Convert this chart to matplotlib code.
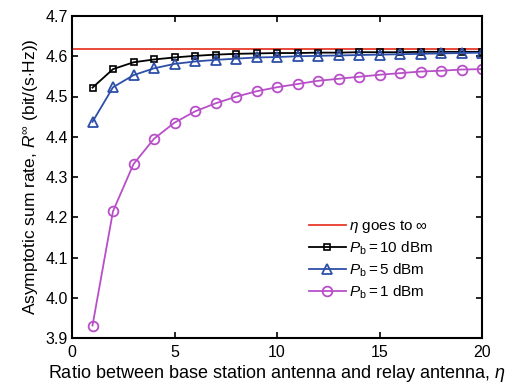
import matplotlib
matplotlib.use("Agg")
import matplotlib.pyplot as plt
import numpy as np

plt.rcParams['font.family'] = ['Liberation Sans', 'DejaVu Sans']
plt.rcParams['mathtext.fontset'] = 'custom'
plt.rcParams['mathtext.rm'] = 'Liberation Sans'
plt.rcParams['mathtext.it'] = 'Liberation Sans:italic'

eta = list(range(1, 21))
r_inf = 4.617
p10 = [4.522, 4.568, 4.585, 4.592, 4.597, 4.601, 4.604, 4.606, 4.607, 4.608,
       4.608, 4.609, 4.609, 4.610, 4.610, 4.610, 4.611, 4.611, 4.611, 4.611]
p5 = [4.437, 4.523, 4.553, 4.570, 4.581, 4.587, 4.591, 4.594, 4.597, 4.598,
      4.600, 4.601, 4.602, 4.603, 4.604, 4.605, 4.606, 4.607, 4.608, 4.609]
p1 = [3.931, 4.215, 4.332, 4.395, 4.435, 4.463, 4.483, 4.4995, 4.513, 4.523,
      4.531, 4.539, 4.544, 4.549, 4.554, 4.558, 4.562, 4.564, 4.567, 4.568]
xticks = [0, 5, 10, 15, 20]
yticks = [3.9, 4.0, 4.1, 4.2, 4.3, 4.4, 4.5, 4.6, 4.7]

fig = plt.figure(figsize=(5.23, 3.83), dpi=100)
ax = fig.add_axes([72/523, 45/383, 410/523, 322/383])

ax.plot([0, 20], [r_inf, r_inf], color='#e8392a', lw=1.3, label=r'$\eta$ goes to $\infty$')
ax.plot(eta, p10, color='black', lw=1.3, marker='s', ms=4.7, mfc='none', mew=1.2,
        label=r'$P_{\mathrm{b}}=10$ dBm')
ax.plot(eta, p5, color='#2e4fa8', lw=1.3, marker='^', ms=7, mfc='none', mew=1.3,
        label=r'$P_{\mathrm{b}}=5$ dBm')
ax.plot(eta, p1, color='#b84fc8', lw=1.3, marker='o', ms=7, mfc='none', mew=1.3,
        label=r'$P_{\mathrm{b}}=1$ dBm')

ax.set_xlim(0, 20)
ax.set_ylim(3.9, 4.7)
ax.set_xticks(xticks)
ax.set_yticks(yticks)
ax.set_yticklabels([f'{v:.1f}' for v in yticks])
ax.tick_params(direction='in', top=True, right=True, labelsize=11.5, length=4, width=1.2, pad=3)
ax.tick_params(axis='x', pad=5)
for s in ax.spines.values():
    s.set_linewidth(1.5)

ax.set_xlabel(r'Ratio between base station antenna and relay antenna, $\eta$', fontsize=13, labelpad=2)
ax.set_ylabel(r'Asymptotic sum rate, $R^{\infty}$ (bit/(s$\cdot$Hz))', fontsize=12.5, labelpad=3)

leg = ax.legend(loc='upper left', bbox_to_anchor=(309/523, 1 - 218/383), bbox_transform=fig.transFigure,
                frameon=False, fontsize=11, borderpad=0,
                handlelength=2.4, handletextpad=0.25, labelspacing=0.3, borderaxespad=0)

fig.savefig('out.png', dpi=100)
